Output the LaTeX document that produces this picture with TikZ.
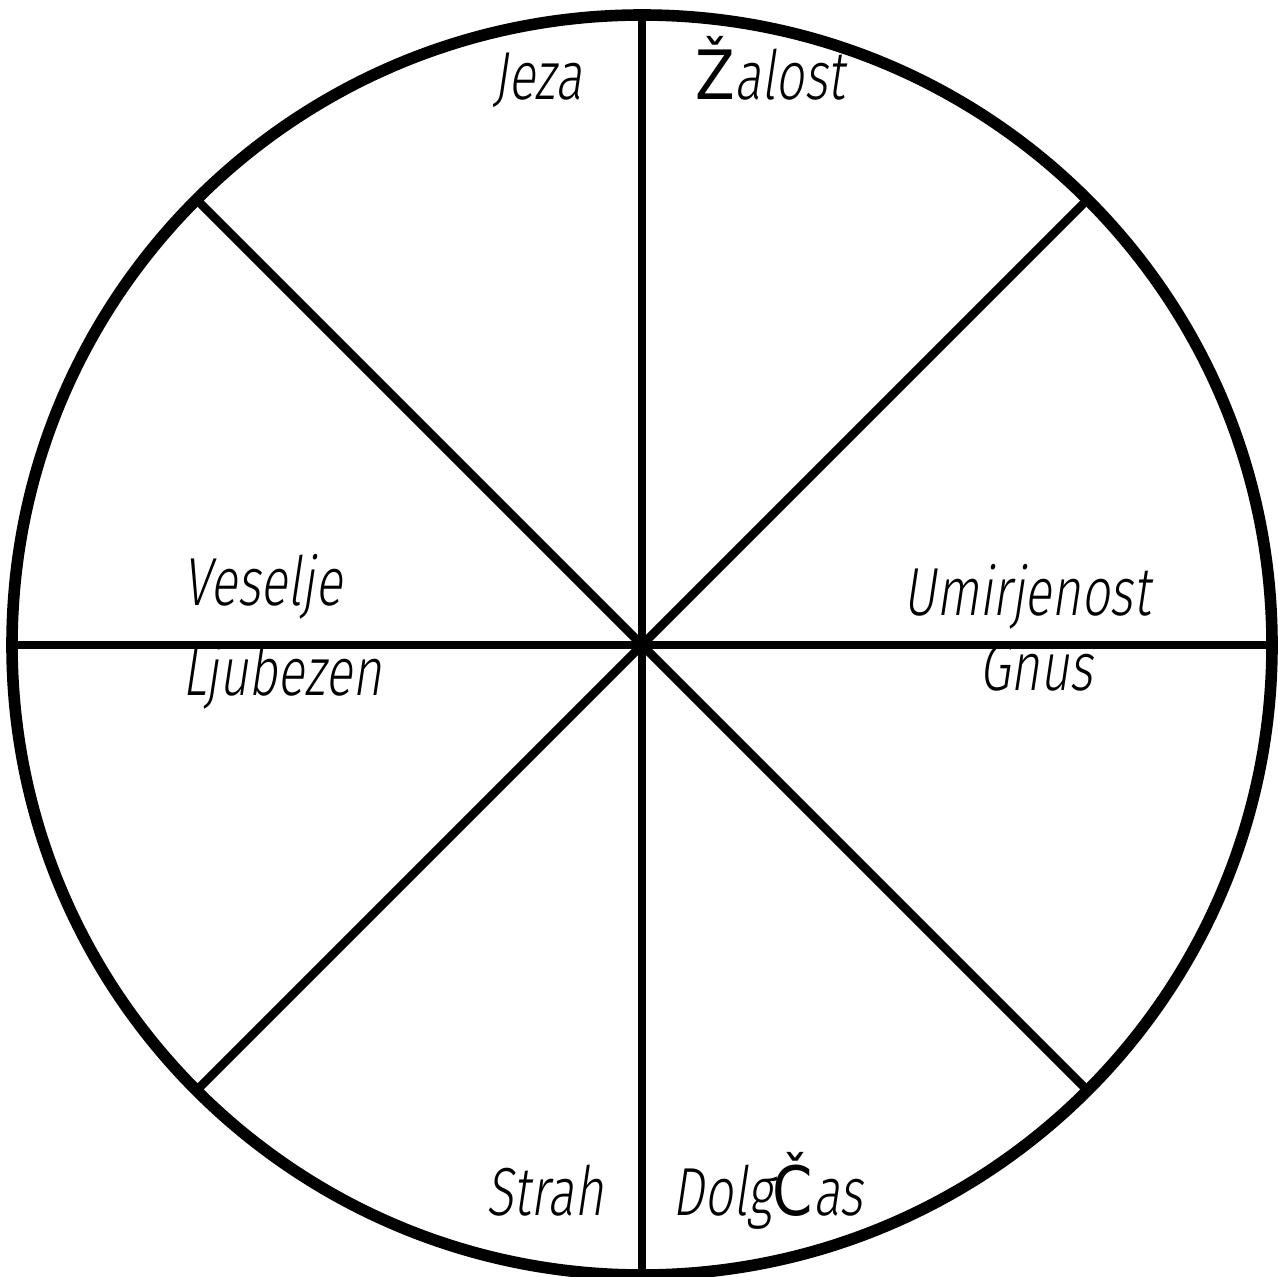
\documentclass[tikz,border=0pt]{standalone}
\usepackage{fontspec}
\usetikzlibrary{calc}
\newfontfamily\hand{Fira Sans Light}[FakeSlant=0.15,FakeStretch=0.74]
\newfontfamily\plainf{DejaVu Sans}[FakeStretch=0.85]
\begin{document}
\begin{tikzpicture}[x=0.5pt,y=-0.5pt,
  rim/.style={line width=5.8pt},
  spoke/.style={line width=4.4pt},
  lbl/.style={font=\hand\fontsize{34}{40}\selectfont, anchor=base, inner sep=0pt}]
\useasboundingbox (0,0) rectangle (1278,1277);
\coordinate (c) at (642,645);
\foreach \a in {0,45,...,315} {
  \coordinate (p\a) at ($(c)+(\a:630)$);
}
\foreach \a in {0,45,...,315} {
  \draw[spoke] (c) -- (p\a);
}
\draw[rim] (c) circle[radius=630];
\node[lbl] (jeza) at (538,100) {Jeza};
\node[lbl] (zalost) at (770,100) {{\plainf Ž}alost};
\node[lbl] (veselje) at (263,605) {Veselje};
\node[lbl] (ljubezen) at (282,695) {Ljubezen};
\node[lbl] (umir) at (1027,615) {Umirjenost};
\node[lbl] (gnus) at (1036,690) {Gnus};
\node[lbl] (strah) at (545,1215) {Strah};
\node[lbl] (dolg) at (768,1215) {Dolg{\plainf Č}as};
\end{tikzpicture}
\end{document}
